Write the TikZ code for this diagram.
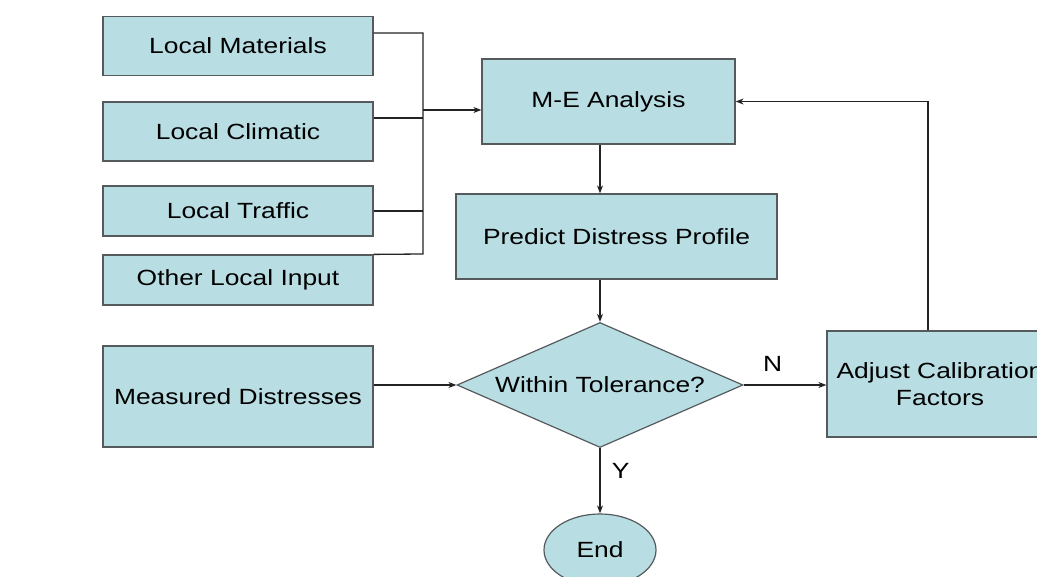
\documentclass[tikz,border=0pt]{standalone}
\usepackage{fontspec}
\setmainfont[FakeStretch=1.2]{Liberation Sans}
\usepackage{xcolor}
\usetikzlibrary{arrows.meta,shapes.geometric}
\definecolor{boxfill}{RGB}{184,222,228}
\definecolor{boxline}{RGB}{85,90,92}
\definecolor{linkline}{RGB}{35,35,35}

\begin{document}
\begin{tikzpicture}[x=1pt,y=-1pt,>={Stealth[length=8pt,width=6pt]},
  box/.style={rectangle,draw=boxline,fill=boxfill,line width=1.2pt,inner sep=2pt,
    align=center,font=\fontsize{22}{27}\selectfont},
  decision/.style={diamond,aspect=2.29,draw=boxline,fill=boxfill,line width=1.2pt,inner sep=0pt,
    font=\fontsize{22}{27}\selectfont},
  terminal/.style={ellipse,draw=boxline,fill=boxfill,line width=1.2pt,inner sep=0pt,
    font=\fontsize{22}{27}\selectfont},
  link/.style={draw=linkline,line width=1.3pt},
  tag/.style={font=\fontsize{22}{27}\selectfont}]
  \useasboundingbox (0,0) rectangle (1037,577);
  \node[box,minimum width=270pt,minimum height=59pt] (mat) at (238,46) {Local Materials};
  \node[box,minimum width=270pt,minimum height=59pt] (clim) at (238,131.5) {Local Climatic};
  \node[box,minimum width=270pt,minimum height=50pt] (traf) at (238,211) {Local Traffic};
  \node[box,minimum width=270pt,minimum height=50pt] (other) at (238,280) {Other Local Input};
  \node[box,minimum width=270pt,minimum height=101pt] (meas) at (238,396.5) {Measured Distresses};
  \node[box,minimum width=253pt,minimum height=85pt] (me) at (608.5,101.5) {M-E Analysis};
  \node[box,minimum width=321pt,minimum height=85pt] (pred) at (616.5,236.5) {Predict Distress Profile};
  \node[decision,minimum width=286pt,minimum height=125pt] (tol) at (600,385) {Within Tolerance?};
  \node[box,minimum width=226pt,minimum height=106pt] (adj) at (940,384) {Adjust Calibration\\Factors};
  \node[terminal,minimum width=112pt,minimum height=72pt] (end) at (600,550) {End};
  \coordinate (bustop) at (423,33);
  \coordinate (busbot) at (423,254);
  \coordinate (busmid) at (423,110);
  % inputs collected on one bus
  \draw[link] ([yshift=13pt]mat.east) -- (bustop) -- (busbot) -- (other.north east);
  \draw[link] ([yshift=13.5pt]clim.east) -- ([yshift=13.5pt]clim.east -| bustop);
  \draw[link] (traf.east) -- (traf.east -| bustop);
  \draw[link,->] (busmid) -- (me.west |- busmid);
  % main chain
  \draw[link,->] (me.south -| tol) -- (pred.north -| tol);
  \draw[link,->] (pred.south -| tol) -- (tol.north);
  \draw[link,->] (meas.east |- tol.west) -- (tol.west);
  \draw[link,->] (tol.east) -- (adj.west |- tol.east) node[tag,pos=0.35,above=10pt] (n) {N};
  \draw[link,->] ([xshift=-12pt]adj.north) |- (me.east);
  \draw[link,->] (tol.south) -- (end.north) node[tag,pos=0.35,right=8pt] (y) {Y};
\end{tikzpicture}
\end{document}
